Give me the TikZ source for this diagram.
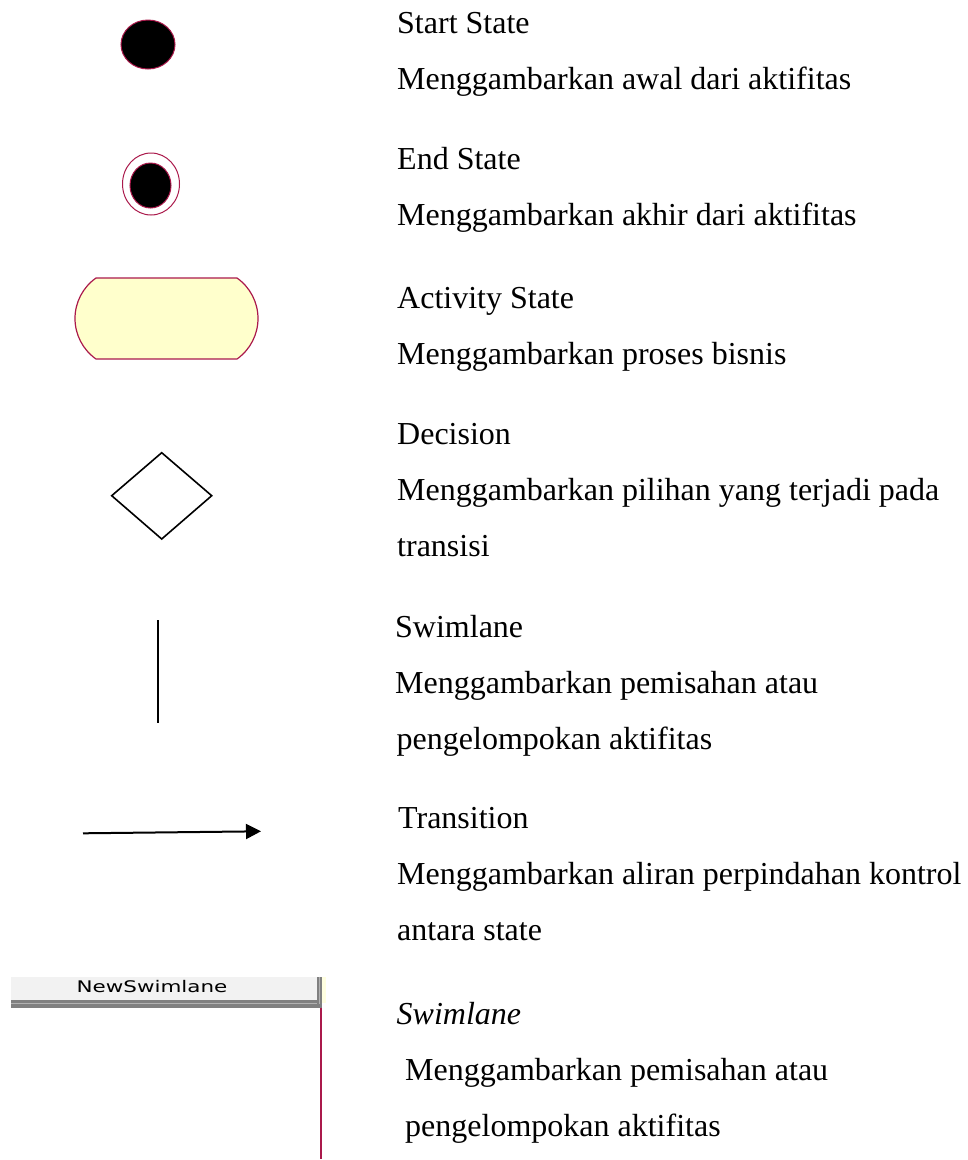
\documentclass[tikz,border=0pt]{standalone}
\usepackage{fontspec}
\setmainfont{Liberation Serif}
\newfontfamily\hdrfont{DejaVu Sans}
\usetikzlibrary{arrows.meta,shapes.geometric}
\definecolor{umlred}{RGB}{170,25,75}
\definecolor{actfill}{RGB}{255,255,204}
\definecolor{hdrfill}{RGB}{242,242,242}
\tikzset{
  desc/.style={anchor=base west,inner sep=0pt,font=\fontsize{32}{38}\selectfont},
  umlline/.style={draw=umlred,line width=1.2pt},
}
\begin{document}
\begin{tikzpicture}[x=1pt,y=-1pt]
\useasboundingbox (0,0) rectangle (968,1160);
% start state
\node[ellipse,draw=umlred,line width=1pt,fill=black,minimum width=54pt,minimum height=49pt,inner sep=0pt] (start) at (148,44.5) {};
% end state
\node[ellipse,draw=umlred,line width=1pt,fill=white,minimum width=57pt,minimum height=62pt,inner sep=0pt] (endo) at (151,184) {};
\node[ellipse,draw=umlred,line width=1pt,fill=black,minimum width=41pt,minimum height=45pt,inner sep=0pt] (endi) at (150.5,185.5) {};
% activity state
\draw[umlline,fill=actfill] (96,278) -- (237,278)
  .. controls (250.2,287.3) and (258,302.4) .. (258,318.5)
  .. controls (258,334.6) and (250.2,349.7) .. (237,359)
  -- (96,359)
  .. controls (82.8,349.7) and (75,334.6) .. (75,318.5)
  .. controls (75,302.4) and (82.8,287.3) .. (96,278) -- cycle;
% decision
\draw[line width=1.6pt,line join=miter] (161.7,452.7) -- (211.7,495.7) -- (161.7,539) -- (111.7,495.7) -- cycle;
% swimlane line
\coordinate (swt) at (158,620);
\coordinate (swb) at (158,723);
\draw[line width=2pt] (swt) -- (swb);
% transition
\coordinate (tra) at (83,833.3);
\coordinate (trb) at (261,831.3);
\draw[line width=2pt,-{Triangle[length=15pt,width=15pt]}] (tra) -- (trb);
% swimlane header
\fill[hdrfill] (11,977) rectangle (318,1001);
\fill[black!50] (11,1000) rectangle (322,1007.5);
\draw[black!30,line width=1pt] (11,1003.5) -- (318,1003.5);
\fill[actfill!60] (322,977) rectangle (326,1003);
\fill[black!50] (317,976.5) rectangle (322,1007.5);
\draw[black!30,line width=1pt] (319.5,976.5) -- (319.5,1003.5);
\node[inner sep=0pt,font=\hdrfont\fontsize{16}{16}\selectfont] (hdr) at (152,987) {\scalebox{1.34}[1]{NewSwimlane}};
\coordinate (lanet) at (320.7,1007.5);
\coordinate (laneb) at (320.7,1159);
\draw[umlred,line width=2pt] (lanet) -- (laneb);
% texts
\node[desc] (t1a) at (397,33) {Start State};
\node[desc] (t1b) at (397,89) {Menggambarkan awal dari aktifitas};
\node[desc] (t2a) at (397,169) {End State};
\node[desc] (t2b) at (397,225) {Menggambarkan akhir dari aktifitas};
\node[desc] (t3a) at (397,308) {Activity State};
\node[desc] (t3b) at (397,364) {Menggambarkan proses bisnis};
\node[desc] (t4a) at (397,444) {Decision};
\node[desc] (t4b) at (397,500) {Menggambarkan pilihan yang terjadi pada};
\node[desc] (t4c) at (397,556) {transisi};
\node[desc] (t5a) at (395,637) {Swimlane};
\node[desc] (t5b) at (395,693) {Menggambarkan pemisahan atau};
\node[desc] (t5c) at (396.5,749) {pengelompokan aktifitas};
\node[desc] (t6a) at (398,828) {Transition};
\node[desc] (t6b) at (397,884) {Menggambarkan aliran perpindahan kontrol};
\node[desc] (t6c) at (397,940) {antara state};
\node[desc,font=\fontsize{32}{38}\selectfont\itshape] (t7a) at (396.5,1024) {Swimlane};
\node[desc] (t7b) at (405,1080) {Menggambarkan pemisahan atau};
\node[desc] (t7c) at (405,1136) {pengelompokan aktifitas};
\end{tikzpicture}
\end{document}
